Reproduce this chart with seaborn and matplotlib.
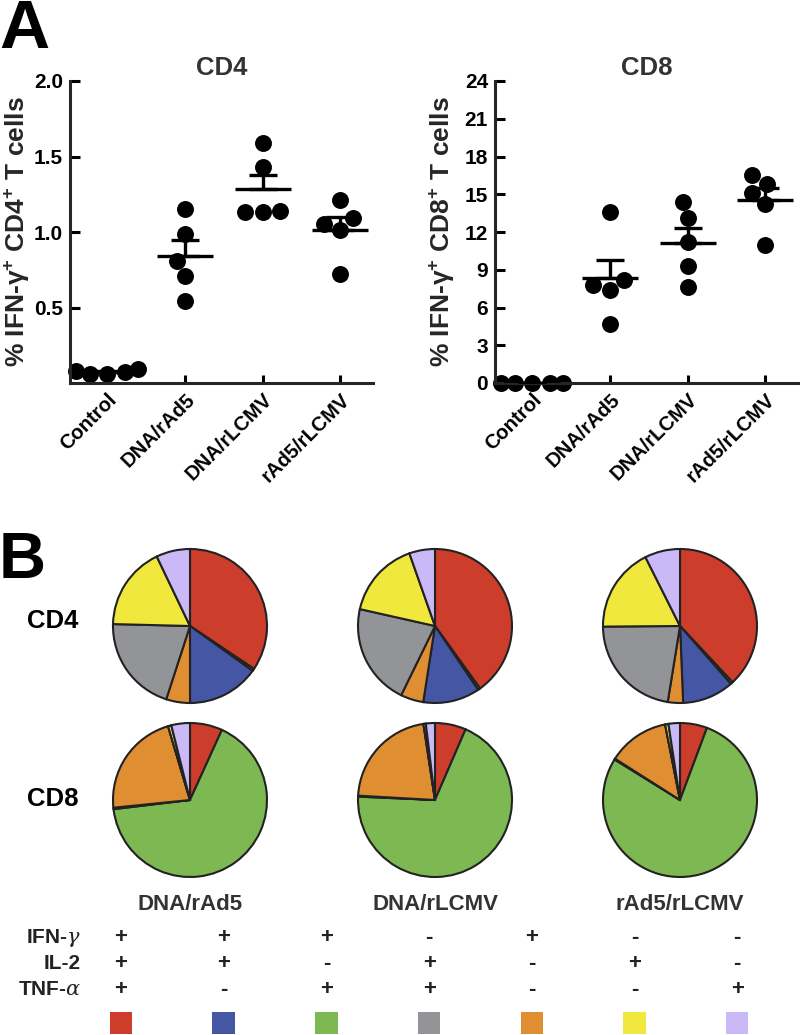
import numpy as np
import pandas as pd
import seaborn as sns
import matplotlib.pyplot as plt
from matplotlib.transforms import ScaledTranslation

# ---- panel A: % IFN-g+ cells per mouse ----
groups = ["Control", "DNA/rAd5", "DNA/rLCMV", "rAd5/rLCMV"]

cd4_control = [0.07, 0.09, 0.06, 0.08, 0.06]
cd4_dna_rad5 = [0.99, 1.15, 0.81, 0.71, 0.54]
cd4_dna_rlcmv = [1.59, 1.43, 1.14, 1.13, 1.13]
cd4_rad5_rlcmv = [1.21, 1.05, 1.01, 1.09, 0.72]

cd8_control = [0.0, 0.0, 0.0, 0.0, 0.0]
cd8_dna_rad5 = [13.6, 7.8, 7.4, 8.2, 4.7]
cd8_dna_rlcmv = [13.1, 14.4, 11.2, 9.3, 7.6]
cd8_rad5_rlcmv = [16.5, 15.1, 15.8, 14.2, 11.0]

cd4_ticks = [0.5, 1.0, 1.5, 2.0]
cd8_ticks = [0, 3, 6, 9, 12, 15, 18, 21, 24]

# ---- panel B: cytokine subsets (legend order) ----
ifn_row = ["+", "+", "+", "-", "+", "-", "-"]
il2_row = ["+", "+", "-", "+", "-", "+", "-"]
tnf_row = ["+", "-", "+", "+", "-", "-", "+"]
subset_colors = ["#CC3E2B", "#4556A5", "#7DB852", "#939497", "#E08E32", "#F0E83C", "#CBB8F7"]

# % of responding cells, same order as the legend columns
cd4_pie_dna_rad5 = [34.4, 15.1, 0.5, 20.4, 5.0, 17.5, 7.1]
cd4_pie_dna_rlcmv = [40.1, 11.9, 0.5, 21.3, 4.8, 16.1, 5.4]
cd4_pie_rad5_rlcmv = [38.0, 10.8, 0.5, 22.3, 3.2, 17.7, 7.4]
cd8_pie_dna_rad5 = [6.8, 0.3, 66.3, 0.0, 22.0, 0.7, 3.9]
cd8_pie_dna_rlcmv = [6.5, 0.2, 69.2, 0.0, 21.7, 0.5, 1.9]
cd8_pie_rad5_rlcmv = [5.7, 0.2, 78.2, 0.0, 12.9, 0.7, 2.4]
pie_groups = ["DNA/rAd5", "DNA/rLCMV", "rAd5/rLCMV"]

# slices go clockwise from 12 o'clock in this order
pie_order = [0, 2, 1, 4, 3, 5, 6]

sns.set_style("ticks")
plt.rcParams["font.family"] = ["Liberation Sans", "DejaVu Sans"]
plt.rcParams["font.weight"] = "bold"
plt.rcParams["axes.labelweight"] = "bold"
plt.rcParams["axes.titleweight"] = "bold"
plt.rcParams["mathtext.fontset"] = "custom"
plt.rcParams["mathtext.rm"] = "Liberation Sans:bold"
plt.rcParams["mathtext.bf"] = "Liberation Sans:bold"
plt.rcParams["mathtext.it"] = "DejaVu Serif:italic:normal"

W, H = 800, 1035
fig = plt.figure(figsize=(W / 100, H / 100), dpi=100)


def px_axes(left, top, right, bottom):
    return fig.add_axes([left / W, 1 - bottom / H, (right - left) / W, (bottom - top) / H])


# background axes in pixel units for panel letters and the legend table
ax_txt = px_axes(0, 0, W, H)
ax_txt.set_xlim(0, W)
ax_txt.set_ylim(H, 0)
ax_txt.axis("off")


def scatter_panel(ax, values, title, ylabel, ymax, ticks, fmt):
    df = pd.DataFrame({
        "group": np.repeat(groups, [len(v) for v in values]),
        "value": np.concatenate(values),
    })
    sns.swarmplot(data=df, x="group", y="value", order=groups, color="black",
                  size=12.2, linewidth=0, ax=ax, warn_thresh=1.0, zorder=2)
    for c in ax.collections:
        c.set_clip_on(False)

    stats = df.groupby("group", sort=False)["value"].agg(["mean", "sem"]).reindex(groups)
    for i, g in enumerate(groups):
        m, s = stats.loc[g, "mean"], stats.loc[g, "sem"]
        ax.hlines(m, i - 0.36, i + 0.36, color="black", lw=2.4, zorder=3)
        ax.errorbar(i, m, yerr=[[0], [s]], fmt="none", ecolor="black",
                    elinewidth=2.4, capsize=10, capthick=2.4, zorder=3)

    ax.set_xlim(-0.48, 3.42)
    ax.set_ylim(0, ymax)
    ax.set_yticks(ticks)
    ax.set_yticklabels([fmt.format(t) for t in ticks])
    ax.set_xticks(range(len(groups)))
    ax.set_xticklabels(groups, rotation=45, ha="right", rotation_mode="anchor",
                       fontsize=14.5, fontweight="bold")
    shift = ScaledTranslation(6 / 72, 0, fig.dpi_scale_trans)
    for lbl in ax.get_xticklabels():
        lbl.set_transform(lbl.get_transform() + shift)
    ax.set_xlabel("")
    ax.set_ylabel(ylabel, fontsize=19)
    ax.yaxis.set_label_coords(-0.127, 0.5)
    ax.set_title(title, fontsize=18.5, color="#333333", pad=4.5)
    sns.despine(ax=ax)
    for side in ["left", "bottom"]:
        ax.spines[side].set_linewidth(2.2)
    ax.tick_params(axis="y", direction="in", length=7, width=2.2, labelsize=15,
                   pad=5, colors="black")
    ax.tick_params(axis="x", direction="in", length=6, width=2.2, pad=5, colors="black")


ax4 = px_axes(70, 81, 373, 383)
scatter_panel(ax4, [cd4_control, cd4_dna_rad5, cd4_dna_rlcmv, cd4_rad5_rlcmv], "CD4",
              r"% IFN-$\mathbf{\gamma}^{\mathbf{+}}$ CD4$^{\mathbf{+}}$ T cells", 2.0, cd4_ticks, "{:.1f}")

ax8 = px_axes(495, 81, 798, 383)
scatter_panel(ax8, [cd8_control, cd8_dna_rad5, cd8_dna_rlcmv, cd8_rad5_rlcmv], "CD8",
              r"% IFN-$\mathbf{\gamma}^{\mathbf{+}}$ CD8$^{\mathbf{+}}$ T cells", 24, cd8_ticks, "{:d}")

# pies
pie_x = [190, 435, 680]
pie_rows = {"CD4": (626, [cd4_pie_dna_rad5, cd4_pie_dna_rlcmv, cd4_pie_rad5_rlcmv]),
            "CD8": (800, [cd8_pie_dna_rad5, cd8_pie_dna_rlcmv, cd8_pie_rad5_rlcmv])}
R, box = 77, 82
for row_name, (cy, pies) in pie_rows.items():
    for cx, vals in zip(pie_x, pies):
        axp = px_axes(cx - box, cy - box, cx + box, cy + box)
        axp.pie([vals[k] for k in pie_order], colors=[subset_colors[k] for k in pie_order],
                startangle=90, counterclock=False, radius=1.0,
                wedgeprops=dict(edgecolor="#222222", linewidth=1.5))
        axp.set_xlim(-box / R, box / R)
        axp.set_ylim(-box / R, box / R)

ax_txt.text(-1, 48, "A", fontsize=50, ha="left", va="baseline", color="black")
ax_txt.text(-1, 578, "B", fontsize=47, ha="left", va="baseline", color="black")
ax_txt.text(53, 628, "CD4", fontsize=18.5, ha="center", va="baseline", color="black")
ax_txt.text(53, 806, "CD8", fontsize=18.5, ha="center", va="baseline", color="black")
for cx, name in zip(pie_x, pie_groups):
    ax_txt.text(cx, 910, name, fontsize=16, ha="center", va="baseline", color="#333333")

# legend table
col_x = 121 + 102.7 * np.arange(len(subset_colors))
row_labels = ["IFN-$\\gamma$", "IL-2", "TNF-$\\alpha$"]
row_base = [943, 969, 995]
for label, y, signs in zip(row_labels, row_base, [ifn_row, il2_row, tnf_row]):
    ax_txt.text(81, y, label, fontsize=15, ha="right", va="baseline", color="#222222")
    for x, s in zip(col_x, signs):
        ax_txt.text(x, y, s, fontsize=16, ha="center", va="baseline", color="#222222")
ax_txt.scatter(col_x, [1023] * len(col_x), marker="s", s=262, c=subset_colors, linewidths=0)

fig.savefig("out.png", dpi=100)
